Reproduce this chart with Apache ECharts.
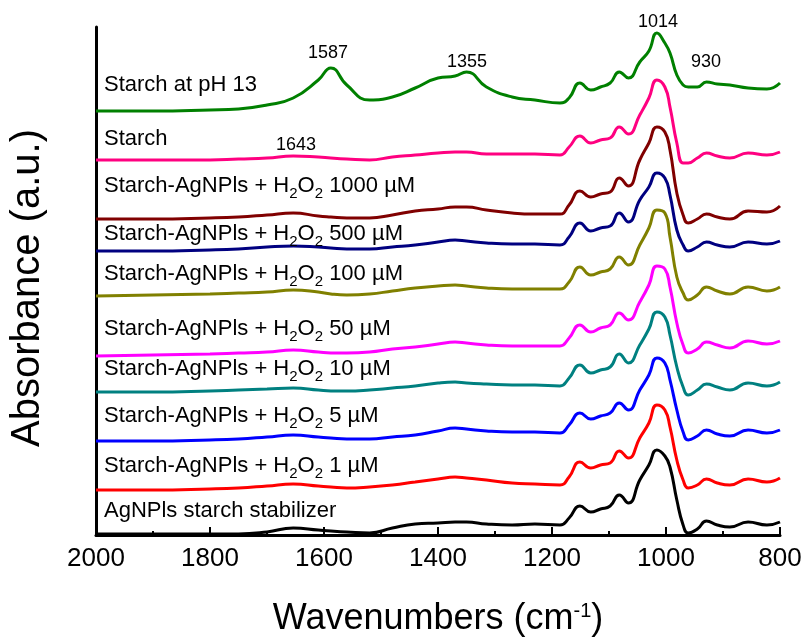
<!DOCTYPE html>
<html><head><meta charset="utf-8">
<script src="https://cdn.jsdelivr.net/npm/echarts@6/dist/echarts.min.js"></script>
<style>html,body{margin:0;padding:0;background:#fff}#c{width:806px;height:642px}</style>
</head><body><div id="c"></div>
<script>
// Wavenumbers (cm-1) at which the spectra were read
const wavenumbers = [2000,1900,1800,1750,1700,1654,1610,1588,1560,1520,1480,1440,1400,1370,1350,1315,1270,1230,1186,1170,1151,1132,1115,1098,1082,1066,1046,1030,1016,1002,993,981,970,961,945,929,910,888,856,823,800];
const xTicks = [2000,1800,1600,1400,1200,1000,800];
// Stacked absorbance (a.u., offset) per sample
const starchPH13 = [424,424,425,426,430,437,455,467,450,435,438,447,457,459,463,448,438,435,432,437,452,445,448,452,463,457,473,484,502,492,482,460,450,448,448,453,451,450,447,446,452];
const starch     = [375,375,375,376,377,379,378,377,376,375,378,380,382,383,383,381,381,381,380,388,399,392,395,397,408,401,420,437,455,448,428,392,372,372,377,382,379,377,382,380,383];
const h2o2_1000  = [316,316,317,318,320,322,319,318,317,317,320,324,326,328,328,325,322,321,321,330,344,338,341,343,357,349,375,392,408,403,385,342,320,312,316,321,318,316,324,323,329];
const h2o2_500   = [284,284,285,286,288,289,288,287,286,286,288,290,293,295,294,292,291,291,290,298,312,304,307,309,322,313,335,348,362,357,340,305,290,284,288,293,290,288,293,291,294];
const h2o2_100   = [239,240,241,242,243,245,243,241,240,241,244,247,249,250,249,247,246,246,246,253,268,260,263,266,278,270,290,307,325,322,298,258,242,235,240,248,244,241,248,244,248];
const h2o2_50    = [179,180,181,182,183,185,183,182,182,183,186,188,191,193,192,190,189,189,189,197,210,203,207,210,222,215,233,250,269,266,248,212,190,182,186,193,190,187,194,191,194];
const h2o2_10    = [143,143,144,145,146,147,145,144,144,145,147,149,152,153,152,151,150,150,149,157,170,162,165,168,181,172,190,206,223,218,200,168,148,140,145,151,148,145,152,149,153];
const h2o2_5     = [94,94,95,96,98,100,98,97,96,96,98,100,104,107,106,104,103,103,102,110,122,116,119,122,132,125,145,160,177,172,155,125,103,95,99,105,101,99,105,102,105];
const h2o2_1     = [45,45,46,47,49,51,49,48,47,48,50,53,56,58,57,55,52,51,50,58,73,67,70,72,84,77,97,112,130,125,108,75,55,47,50,56,52,50,56,53,57];
const agnpls     = [1,1,1,1,3,7,5,4,3,2,7,11,12,13,13,11,10,11,10,17,29,23,26,29,40,32,55,70,85,79,68,35,10,2,6,14,10,8,13,10,13];

const seriesNames = ['Starch at pH 13','Starch','Starch-AgNPls + H2O2 1000 µM','Starch-AgNPls + H2O2 500 µM','Starch-AgNPls + H2O2 100 µM','Starch-AgNPls + H2O2 50 µM','Starch-AgNPls + H2O2 10 µM','Starch-AgNPls + H2O2 5 µM','Starch-AgNPls + H2O2 1 µM','AgNPls starch stabilizer'];
const seriesValues = [starchPH13, starch, h2o2_1000, h2o2_500, h2o2_100, h2o2_50, h2o2_10, h2o2_5, h2o2_1, agnpls];
const seriesColors = ['#008000','#FF0080','#800000','#000080','#808000','#FF00FF','#008080','#0000FF','#FF0000','#000000'];
const labelY = [87,141,188,236,276,331,371,418,468,513];
const peakLabels = [
  {text:'1587', x:328, y:53},
  {text:'1355', x:467, y:62},
  {text:'1014', x:658, y:22},
  {text:'930',  x:706, y:62},
  {text:'1643', x:296, y:145}
];

const FONT = 'Liberation Sans, Arial, sans-serif';
const chart = echarts.init(document.getElementById('c'), null, {renderer:'canvas'});

function labelRich(name){
  if (name.indexOf('H2O2') >= 0) {
    const parts = name.split('H2O2');
    return '{a|' + parts[0] + 'H}{s|2}{a|O}{s|2}{a|' + parts[1] + '}';
  }
  return '{a|' + name + '}';
}
const richLbl = {
  a: {fontSize:22, fontFamily:FONT, color:'#000', lineHeight:26, verticalAlign:'top'},
  s: {fontSize:15, fontFamily:FONT, color:'#000', lineHeight:15, padding:[11,0,0,0], verticalAlign:'top'}
};

const graphics = [];
seriesNames.forEach((n,i)=>{
  graphics.push({type:'text', x:104, y:labelY[i], z:100,
    style:{text:labelRich(n), rich:richLbl, verticalAlign:'middle', align:'left'}});
});
peakLabels.forEach(p=>{
  graphics.push({type:'text', x:p.x, y:p.y, z:100,
    style:{text:p.text, fontSize:18, fontFamily:FONT, fill:'#000', align:'center', verticalAlign:'middle'}});
});
graphics.push({type:'text', x:28, y:288, rotation:Math.PI/2, z:100,
  style:{text:'Absorbance (a.u.)', fontSize:40, fontFamily:FONT, fill:'#000', align:'center', verticalAlign:'middle'}});
graphics.push({type:'text', x:438, y:621, z:100,
  style:{text:'{a|Wavenumbers (cm}{p|-1}{a|)}', align:'center', verticalAlign:'middle',
    rich:{a:{fontSize:36, fontFamily:FONT, color:'#000', lineHeight:40, verticalAlign:'top'},
          p:{fontSize:20, fontFamily:FONT, color:'#000', lineHeight:20, padding:[0,0,0,0], verticalAlign:'top'}}}});

const option = {
  animation:false,
  backgroundColor:'#fff',
  grid:{left:96, right:26, top:27, bottom:107, containLabel:false},
  xAxis:{
    type:'value', min:800, max:2000, interval:200, inverse:true,
    axisLine:{show:true, lineStyle:{color:'#000', width:3}},
    axisTick:{show:true, inside:true, length:8, lineStyle:{color:'#000', width:2}},
    minorTick:{show:true, splitNumber:2, length:4, lineStyle:{color:'#000', width:2}},
    axisLabel:{fontSize:26, fontFamily:FONT, color:'#000', margin:11,
      formatter: v => String(v)},
    splitLine:{show:false}, minorSplitLine:{show:false}
  },
  yAxis:{
    type:'value', min:0, max:508,
    axisLine:{show:true, lineStyle:{color:'#000', width:3}},
    axisTick:{show:false}, axisLabel:{show:false}, splitLine:{show:false}
  },
  series: seriesNames.map((n,i)=>({
    name:n, type:'line', symbol:'none', smooth:0.5,
    lineStyle:{color:seriesColors[i], width:3}, itemStyle:{color:seriesColors[i]},
    data: wavenumbers.map((w,k)=>[w, seriesValues[i][k]])
  })),
  graphic: graphics
};
chart.setOption(option);
</script></body></html>
